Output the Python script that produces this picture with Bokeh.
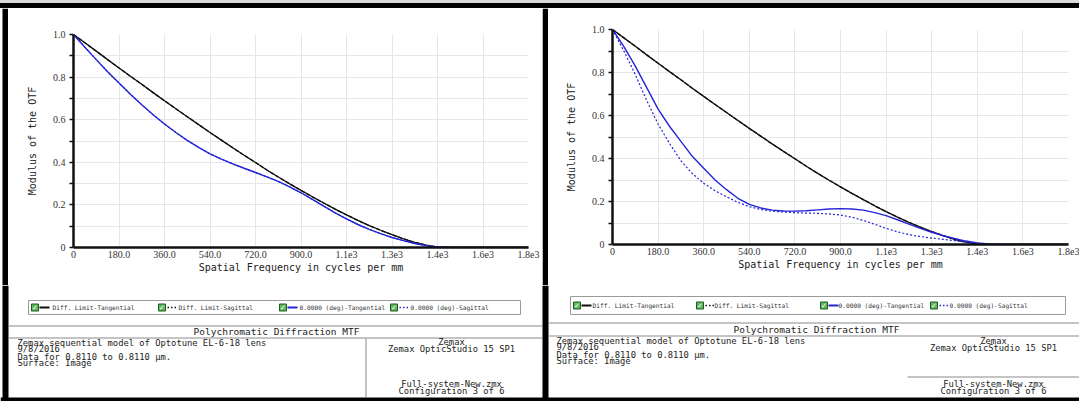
from bokeh.plotting import figure
from bokeh.models import FixedTicker, Range1d, Div
from bokeh.layouts import row, column
from bokeh.core.properties import value
from bokeh.embed import file_html
from bokeh.resources import INLINE

# ---------------- data ----------------
freq = [0, 45, 90, 135, 180, 225, 270, 315, 360, 405, 450, 495, 540, 585, 630,
        675, 720, 765, 810, 855, 900, 945, 990, 1035, 1080, 1125, 1170, 1215,
        1260, 1305, 1350, 1395, 1440, 1485, 1530, 1575, 1620, 1665, 1710, 1755, 1800]
diff_tan = [1.0, 0.961, 0.922, 0.882, 0.843, 0.804, 0.766, 0.727, 0.689, 0.651,
            0.614, 0.577, 0.540, 0.504, 0.468, 0.433, 0.399, 0.364, 0.331, 0.299,
            0.268, 0.238, 0.209, 0.180, 0.153, 0.127, 0.103, 0.081, 0.060, 0.041,
            0.024, 0.011, 0.002, 0.0, 0.0, 0.0, 0.0, 0.0, 0.0, 0.0, 0.0]
diff_sag = [1.0, 0.961, 0.922, 0.882, 0.843, 0.804, 0.766, 0.727, 0.689, 0.651,
            0.614, 0.577, 0.540, 0.504, 0.468, 0.433, 0.399, 0.364, 0.331, 0.299,
            0.268, 0.238, 0.209, 0.180, 0.153, 0.127, 0.103, 0.081, 0.060, 0.041,
            0.024, 0.011, 0.002, 0.0, 0.0, 0.0, 0.0, 0.0, 0.0, 0.0, 0.0]
left_tan = [1.0, 0.94, 0.882, 0.825, 0.772, 0.72, 0.67, 0.623, 0.58, 0.54,
            0.503, 0.47, 0.44, 0.415, 0.393, 0.372, 0.352, 0.332, 0.31, 0.285,
            0.257, 0.226, 0.194, 0.163, 0.134, 0.108, 0.085, 0.065, 0.047, 0.032,
            0.019, 0.009, 0.003, 0.0, 0.0, 0.0, 0.0, 0.0, 0.0, 0.0, 0.0]
left_sag = [1.0, 0.94, 0.882, 0.825, 0.772, 0.72, 0.67, 0.623, 0.58, 0.54,
            0.503, 0.47, 0.44, 0.415, 0.393, 0.372, 0.352, 0.332, 0.31, 0.285,
            0.257, 0.226, 0.194, 0.163, 0.134, 0.108, 0.085, 0.065, 0.047, 0.032,
            0.019, 0.009, 0.003, 0.0, 0.0, 0.0, 0.0, 0.0, 0.0, 0.0, 0.0]
right_tan = [1.0, 0.92, 0.83, 0.73, 0.63, 0.55, 0.48, 0.41, 0.355, 0.30,
             0.255, 0.215, 0.187, 0.17, 0.16, 0.156, 0.155, 0.157, 0.161, 0.165,
             0.167, 0.165, 0.16, 0.148, 0.134, 0.115, 0.095, 0.075, 0.057, 0.041,
             0.028, 0.016, 0.007, 0.002, 0.0, 0.0, 0.0, 0.0, 0.0, 0.0, 0.0]
right_sag = [1.0, 0.90, 0.79, 0.67, 0.56, 0.47, 0.39, 0.33, 0.285, 0.25,
             0.222, 0.196, 0.176, 0.163, 0.155, 0.151, 0.148, 0.146, 0.145, 0.142,
             0.137, 0.127, 0.112, 0.094, 0.075, 0.059, 0.046, 0.037, 0.03, 0.024,
             0.018, 0.011, 0.006, 0.002, 0.0, 0.0, 0.0, 0.0, 0.0, 0.0, 0.0]

x_ticks = [0, 180, 360, 540, 720, 900, 1080, 1260, 1440, 1620, 1800]
x_tick_labels = ["0", "180.0", "360.0", "540.0", "720.0", "900.0",
                 "1.1e3", "1.3e3", "1.4e3", "1.6e3", "1.8e3"]
y_ticks = [0, 0.2, 0.4, 0.6, 0.8, 1]
y_minor = [0.1, 0.3, 0.5, 0.7, 0.9]
y_tick_labels = ["0", "0.2", "0.4", "0.6", "0.8", "1.0"]

x_title = "Spatial Frequency in cycles per mm"
y_title = "Modulus of the OTF"
legend_labels = ["Diff. Limit-Tangential", "Diff. Limit-Sagittal",
                 "0.0000 (deg)-Tangential", "0.0000 (deg)-Sagittal"]
window_title = "Polychromatic Diffraction MTF"
info_lines = ["Zemax sequential model of Optotune EL-6-18 lens", "9/8/2016",
              "Data for 0.8110 to 0.8110 \u00b5m.", "Surface: Image"]
app_lines = ["Zemax", "Zemax OpticStudio 15 SP1"]
file_lines = ["Full-system-New.zmx", "Configuration 3 of 6"]

BLACK = "#111111"
BLUE = "#2424d8"
MONO = "DejaVu Sans Mono"
TXT = "#222222"
W, H = 1079, 401
TOP_H = 8          # window chrome strip height
CHART_BOTTOM = 285  # y where the info area starts


def blank(width, height, x0, x1, y0, y1):
    p = figure(width=width, height=height, x_range=Range1d(x0, x1),
               y_range=Range1d(y1, y0), x_axis_location=None, y_axis_location=None,
               min_border=0, output_backend="svg", toolbar_location=None,
               frame_align=False)
    p.grid.visible = False
    p.outline_line_color = None
    p.background_fill_color = "white"
    p.border_fill_color = "white"
    return p


def rect(p, l, r, t, b, fill, line=None, lw=1):
    p.quad(left=[l], right=[r], top=[t], bottom=[b], fill_color=fill,
           line_color=line, line_width=lw)


def txt(p, x, y, text, size="9px", align="left", color=TXT, font=MONO):
    p.text(x=[x], y=[y], text=[text], text_font=value(font), text_font_size=size,
           text_color=color, text_align=align, text_baseline="middle")


def chart(width, height, fl, fr, ft, fb, tan, sag):
    p = figure(width=width, height=height, x_range=Range1d(0, 1800),
               y_range=Range1d(0, 1),
               min_border_left=fl, min_border_right=fr,
               min_border_top=ft, min_border_bottom=fb,
               output_backend="svg", toolbar_location=None, frame_align=False)
    p.outline_line_color = None
    p.background_fill_color = "white"
    p.border_fill_color = "white"

    p.xaxis.ticker = FixedTicker(ticks=x_ticks)
    p.xaxis.major_label_overrides = dict(zip(x_ticks, x_tick_labels))
    p.yaxis.ticker = FixedTicker(ticks=y_ticks, minor_ticks=y_minor)
    p.yaxis.major_label_overrides = dict(zip(y_ticks, y_tick_labels))
    for ax in (p.xaxis[0], p.yaxis[0]):
        ax.axis_line_color = BLACK
        ax.axis_line_width = 2.5
        ax.major_label_text_font = "Liberation Serif"
        ax.major_label_text_font_size = "10px"
        ax.major_label_text_color = "#333333"
        ax.axis_label_text_font = MONO
        ax.axis_label_text_font_size = "10px"
        ax.axis_label_text_font_style = "normal"
        ax.axis_label_text_color = TXT
    p.xaxis.axis_label = x_title
    p.yaxis.axis_label = y_title
    p.xaxis.major_tick_out = 0
    p.xaxis.major_tick_in = 0
    p.xaxis.minor_tick_out = 0
    p.xaxis.major_label_standoff = 3
    p.xaxis.axis_label_standoff = 1
    p.yaxis.major_tick_out = 4
    p.yaxis.major_tick_in = 0
    p.yaxis.minor_tick_out = 4
    p.yaxis.minor_tick_in = 0
    p.yaxis.major_tick_line_color = BLACK
    p.yaxis.minor_tick_line_color = BLACK
    p.yaxis.major_tick_line_width = 1.5
    p.yaxis.minor_tick_line_width = 1.5
    p.yaxis.major_label_standoff = 4
    p.yaxis.axis_label_standoff = 12

    p.xgrid.grid_line_color = "#e6e6e6"
    p.ygrid.grid_line_color = "#e6e6e6"
    p.ygrid.minor_grid_line_color = "#e6e6e6"

    p.line(freq, diff_tan, line_color=BLACK, line_width=1.3)
    p.line(freq, diff_sag, line_color=BLACK, line_width=1.3, line_dash="4 2")
    p.line(freq, tan, line_color=BLUE, line_width=1.4)
    p.line(freq, sag, line_color=BLUE, line_width=1.2, line_dash="2 2")
    return p


def black_bar(width, height, l, r):
    p = blank(width, height, 0, width, 0, height)
    rect(p, l, r, 0, height, "black")
    return p


# ---------------- top window chrome ----------------
top = Div(text="", width=W, height=TOP_H, margin=0,
          styles={"background": "linear-gradient(to bottom, #d9d9d9 0px, #d9d9d9 3px, "
                                "#000000 3px, #000000 8px)"})

# ---------------- charts row ----------------
ROW_H = CHART_BOTTOM - TOP_H
left_chart = chart(534, ROW_H, fl=65, fr=14, ft=34 - TOP_H, fb=CHART_BOTTOM - 247,
                   tan=left_tan, sag=left_sag)
right_chart = chart(531, ROW_H, fl=64, fr=11, ft=29 - TOP_H, fb=CHART_BOTTOM - 244,
                    tan=right_tan, sag=right_sag)
charts = row(black_bar(8, ROW_H, 2, 8), left_chart, black_bar(6, ROW_H, 0, 6),
             right_chart, spacing=0)

# ---------------- info / legend area ----------------
bot = blank(W, H - CHART_BOTTOM, 0, W, CHART_BOTTOM, H)
rect(bot, 2, 8, CHART_BOTTOM, H, "black")
rect(bot, 542, 548, CHART_BOTTOM, H, "black")
rect(bot, 0, W, 397, H, "black")

panels = [
    dict(legend=(28, 520, 300, 314),
         items=[(31, 39, 52), (158, 166, 178), (279, 287, 299), (390, 398, 410)],
         rules=[(8, 542, 325, 326), (8, 542, 337, 338), (365, 366, 338, 397)],
         title=(276, 331), info_x=17, info_y=[342, 348.5, 356, 362.5],
         app_x=451, app_y=[341, 348], file_y=[383, 390]),
    dict(legend=(570, 1065, 296, 314),
         items=[(573, 581, 592), (696, 704, 714), (820, 828, 838), (930, 938, 949)],
         rules=[(548, W, 322, 323), (548, W, 335, 336), (907, W, 376, 377)],
         title=(816, 329), info_x=556, info_y=[340, 346.5, 354, 360.5],
         app_x=993, app_y=[340, 347], file_y=[383, 390.5]),
]
styles = [(BLACK, False), (BLACK, True), (BLUE, False), (BLUE, True)]
for cfg in panels:
    l, r, t, b = cfg["legend"]
    rect(bot, l, r, t, b, "white", "#9a9a9a", 1)
    yc = (t + b) / 2
    for (cx, sx, tx), text, (col, dotted) in zip(cfg["items"], legend_labels, styles):
        rect(bot, cx, cx + 7, yc - 3.5, yc + 3.5, "#5fb85f", "#1f5a1f", 1)
        txt(bot, cx + 3.5, yc + 0.3, "\u2713", size="7px", align="center",
            color="white", font="DejaVu Sans")
        if dotted:
            for k in range(3):
                rect(bot, sx + 1 + 3.5 * k, sx + 2.5 + 3.5 * k, yc - 0.8, yc + 0.8, col)
        else:
            rect(bot, sx, sx + 10, yc - 0.9, yc + 0.9, col)
        txt(bot, tx, yc, text, size="6.2px", color="#333333")
    for (l2, r2, t2, b2) in cfg["rules"]:
        rect(bot, l2, r2, t2, b2, "#8a8a8a")
    txt(bot, cfg["title"][0], cfg["title"][1], window_title, size="9.5px", align="center")
    for text, y in zip(info_lines, cfg["info_y"]):
        txt(bot, cfg["info_x"], y, text, size="8.8px")
    for text, y in zip(app_lines, cfg["app_y"]):
        txt(bot, cfg["app_x"], y, text, size="8.8px", align="center")
    for text, y in zip(file_lines, cfg["file_y"]):
        txt(bot, cfg["app_x"], y, text, size="8.8px", align="center")

layout = column(top, charts, bot, spacing=0)
open("out.html", "w").write(file_html(layout, INLINE))
